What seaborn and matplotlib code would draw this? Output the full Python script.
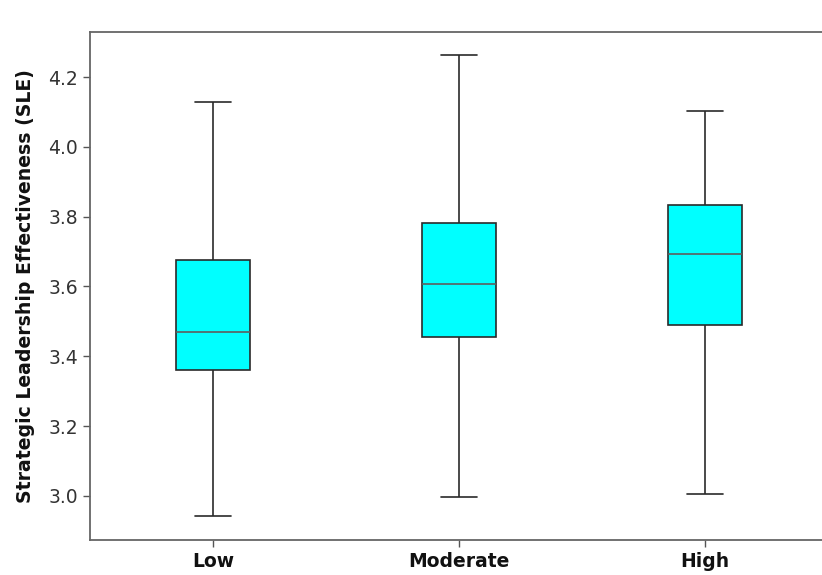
import numpy as np
import pandas as pd
import seaborn as sns
import matplotlib
matplotlib.use("Agg")
import matplotlib.pyplot as plt

# five-number summaries: min, Q1, median, Q3, max
levels = ["Low", "Moderate", "High"]
low_vals = [2.943, 3.361, 3.469, 3.677, 4.129]
moderate_vals = [2.996, 3.455, 3.607, 3.782, 4.263]
high_vals = [3.006, 3.491, 3.694, 3.834, 4.104]
y_ticks = [3.0, 3.2, 3.4, 3.6, 3.8, 4.0, 4.2]

df = pd.DataFrame({
    "Level": np.repeat(levels, 5),
    "SLE": low_vals + moderate_vals + high_vals,
})

sns.set_theme(style="ticks")
plt.rcParams["font.family"] = ["DejaVu Sans"]

fig = plt.figure(figsize=(8.22, 5.75), dpi=100)
ax = fig.add_axes([0.1095, 0.0609, 0.8978, 0.8835])

sns.boxplot(
    data=df, x="Level", y="SLE", order=levels, ax=ax,
    color="#00ffff", saturation=1, width=0.3, whis=(0, 100),
    linecolor="#2a2a2a", linewidth=1.2,
    medianprops={"color": "#5e5e5e", "linewidth": 1.2},
)

ax.set_xlim(-0.5, 2.5)
ax.set_ylim(2.874, 4.329)
ax.set_yticks(y_ticks)
ax.set_yticklabels([f"{t:.1f}" for t in y_ticks], fontsize=13.5, color="#333333")
ax.set_xticks(range(len(levels)))
ax.set_xticklabels(levels, fontsize=13.5, fontweight="bold", color="#111111")
ax.set_xlabel("")
ax.set_ylabel("Strategic Leadership Effectiveness (SLE)", fontsize=13.6,
              fontweight="bold", color="#111111", labelpad=10)

for side in ["left", "bottom", "top", "right"]:
    ax.spines[side].set_visible(True)
    ax.spines[side].set_color("#666666")
    ax.spines[side].set_linewidth(1.3)
ax.tick_params(axis="both", length=5, width=1, color="#555555")

fig.savefig("out.png", dpi=100)
